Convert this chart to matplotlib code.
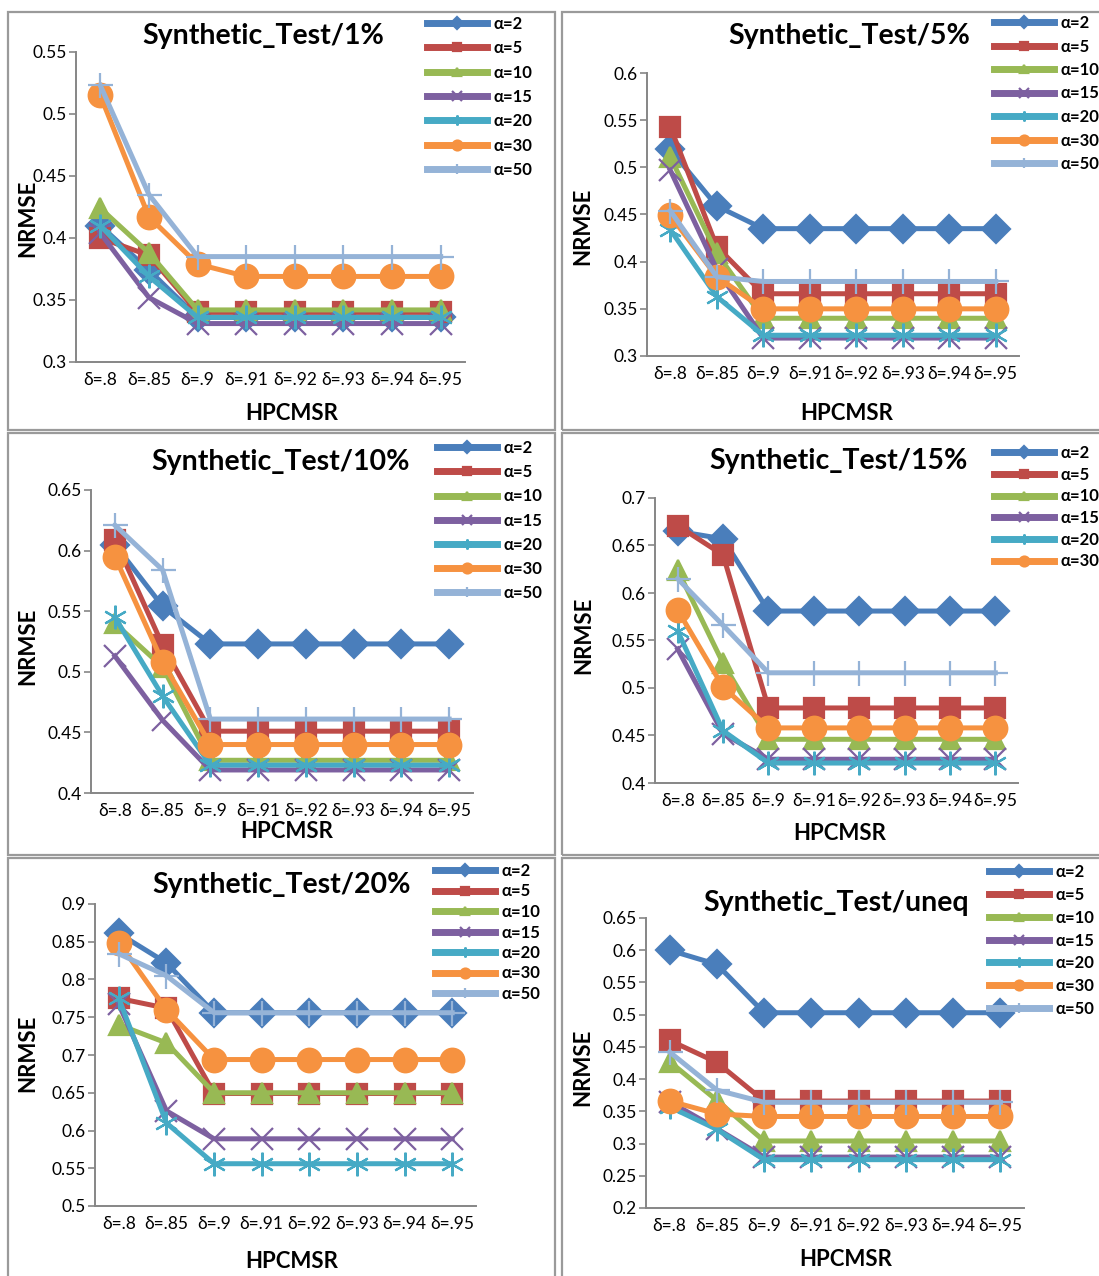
import matplotlib
matplotlib.use("Agg")
import matplotlib.pyplot as plt
from matplotlib.patches import Rectangle
from matplotlib.ticker import MultipleLocator

plt.rcParams['font.family'] = ['Lato', 'DejaVu Sans']

W, H = 1099, 1276

categories = ["δ=.8", "δ=.85", "δ=.9", "δ=.91", "δ=.92", "δ=.93", "δ=.94", "δ=.95"]
series_labels = ["α=2", "α=5", "α=10", "α=15", "α=20", "α=30", "α=50"]

nrmse_1pct = [
    [0.410, 0.374, 0.336, 0.336, 0.336, 0.336, 0.336, 0.336],
    [0.400, 0.386, 0.340, 0.340, 0.340, 0.340, 0.340, 0.340],
    [0.424, 0.388, 0.342, 0.342, 0.342, 0.342, 0.342, 0.342],
    [0.404, 0.352, 0.331, 0.331, 0.331, 0.331, 0.331, 0.331],
    [0.410, 0.369, 0.336, 0.336, 0.336, 0.336, 0.336, 0.336],
    [0.515, 0.417, 0.379, 0.369, 0.369, 0.369, 0.369, 0.369],
    [0.523, 0.435, 0.385, 0.385, 0.385, 0.385, 0.385, 0.385],
]
nrmse_5pct = [
    [0.519, 0.459, 0.435, 0.435, 0.435, 0.435, 0.435, 0.435],
    [0.543, 0.416, 0.366, 0.366, 0.366, 0.366, 0.366, 0.366],
    [0.511, 0.409, 0.340, 0.340, 0.340, 0.340, 0.340, 0.340],
    [0.497, 0.392, 0.319, 0.319, 0.319, 0.319, 0.319, 0.319],
    [0.434, 0.363, 0.322, 0.322, 0.322, 0.322, 0.322, 0.322],
    [0.449, 0.384, 0.350, 0.350, 0.350, 0.350, 0.350, 0.350],
    [0.454, 0.384, 0.379, 0.379, 0.379, 0.379, 0.379, 0.379],
]
nrmse_10pct = [
    [0.605, 0.554, 0.523, 0.523, 0.523, 0.523, 0.523, 0.523],
    [0.609, 0.522, 0.451, 0.451, 0.451, 0.451, 0.451, 0.451],
    [0.540, 0.504, 0.427, 0.427, 0.427, 0.427, 0.427, 0.427],
    [0.513, 0.460, 0.419, 0.419, 0.419, 0.419, 0.419, 0.419],
    [0.545, 0.480, 0.423, 0.423, 0.423, 0.423, 0.423, 0.423],
    [0.595, 0.508, 0.440, 0.440, 0.440, 0.440, 0.440, 0.440],
    [0.621, 0.584, 0.461, 0.461, 0.461, 0.461, 0.461, 0.461],
]
nrmse_15pct = [
    [0.665, 0.657, 0.581, 0.581, 0.581, 0.581, 0.581, 0.581],
    [0.671, 0.640, 0.479, 0.479, 0.479, 0.479, 0.479, 0.479],
    [0.624, 0.526, 0.446, 0.446, 0.446, 0.446, 0.446, 0.446],
    [0.541, 0.452, 0.425, 0.425, 0.425, 0.425, 0.425, 0.425],
    [0.560, 0.455, 0.421, 0.421, 0.421, 0.421, 0.421, 0.421],
    [0.582, 0.501, 0.458, 0.458, 0.458, 0.458, 0.458, 0.458],
    [0.615, 0.566, 0.516, 0.516, 0.516, 0.516, 0.516, 0.516],
]
nrmse_20pct = [
    [0.861, 0.822, 0.756, 0.756, 0.756, 0.756, 0.756, 0.756],
    [0.775, 0.762, 0.649, 0.649, 0.649, 0.649, 0.649, 0.649],
    [0.740, 0.716, 0.650, 0.650, 0.650, 0.650, 0.650, 0.650],
    [0.767, 0.626, 0.589, 0.589, 0.589, 0.589, 0.589, 0.589],
    [0.775, 0.610, 0.556, 0.556, 0.556, 0.556, 0.556, 0.556],
    [0.849, 0.760, 0.694, 0.694, 0.694, 0.694, 0.694, 0.694],
    [0.834, 0.805, 0.756, 0.756, 0.756, 0.756, 0.756, 0.756],
]
nrmse_uneq = [
    [0.600, 0.578, 0.503, 0.503, 0.503, 0.503, 0.503, 0.503],
    [0.460, 0.426, 0.366, 0.366, 0.366, 0.366, 0.366, 0.366],
    [0.427, 0.367, 0.304, 0.304, 0.304, 0.304, 0.304, 0.304],
    [0.365, 0.323, 0.279, 0.279, 0.279, 0.279, 0.279, 0.279],
    [0.357, 0.322, 0.275, 0.275, 0.275, 0.275, 0.275, 0.275],
    [0.366, 0.346, 0.342, 0.342, 0.342, 0.342, 0.342, 0.342],
    [0.442, 0.383, 0.364, 0.364, 0.364, 0.364, 0.364, 0.364],
]

titles = ["Synthetic_Test/1%", "Synthetic_Test/5%", "Synthetic_Test/10%",
          "Synthetic_Test/15%", "Synthetic_Test/20%", "Synthetic_Test/uneq"]
ylims = [(0.3, 0.55), (0.3, 0.6), (0.4, 0.65), (0.4, 0.7), (0.5, 0.9), (0.2, 0.65)]
panel_data = [nrmse_1pct, nrmse_5pct, nrmse_10pct, nrmse_15pct, nrmse_20pct, nrmse_uneq]
legend_counts = [7, 7, 7, 6, 7, 7]

colors = ["#4A7EBB", "#BE4B48", "#98B954", "#7D60A0", "#46AAC5", "#F69240", "#95B3D7"]
markers = ["D", "s", "^", "x", (6, 2, 0), "o", "+"]
msizes = [14, 14, 15, 16, 17, 17, 18]

# layout in pixels
layout = [
    dict(ax=(76, 465, 52, 362), title=(263, 36), yl=(28, 218), xl=(292, 413), lg=(427, 24), ls=0.50, box=(8, 12, 555, 430)),
    dict(ax=(647, 1019, 73, 356), title=(849, 36), yl=(583, 226), xl=(847, 413), lg=(994, 23), ls=0.45, box=(562, 12, 1105, 430)),
    dict(ax=(91, 473, 490, 793), title=(281, 462), yl=(28, 646), xl=(287, 832), lg=(437, 448), ls=0.49, box=(8, 433, 555, 855)),
    dict(ax=(655, 1018, 498, 783), title=(839, 461), yl=(584, 635), xl=(840, 834), lg=(994, 453), ls=0.34, box=(562, 433, 1105, 855)),
    dict(ax=(95, 476, 904, 1206), title=(282, 885), yl=(28, 1053), xl=(292, 1261), lg=(435, 871), ls=0.27, box=(8, 858, 555, 1280)),
    dict(ax=(646, 1024, 918, 1208), title=(836, 903), yl=(583, 1067), xl=(846, 1260), lg=(989, 872), ls=0.41, box=(562, 858, 1105, 1280)),
]

fig = plt.figure(figsize=(W / 100, H / 100), dpi=100)

def fx(px):
    return px / W

def fy(py):
    return 1 - py / H

grey = "#868686"

for i in range(6):
    L = layout[i]
    bx0, by0, bx1, by1 = L["box"]
    fig.patches.append(Rectangle((fx(bx0), fy(by1)), fx(bx1 - bx0), (by1 - by0) / H,
                                 transform=fig.transFigure, fill=False,
                                 edgecolor="#9A9A9A", linewidth=1.6, zorder=0))
    l, r, t, b = L["ax"]
    ax = fig.add_axes([fx(l), fy(b), (r - l) / W, (b - t) / H])
    x = list(range(len(categories)))
    handles = []
    for k in range(7):
        h, = ax.plot(x, panel_data[i][k], color=colors[k], linewidth=3.6,
                     marker=markers[k], markersize=msizes[k],
                     markerfacecolor=colors[k], markeredgecolor=colors[k],
                     markeredgewidth=1.6, label=series_labels[k], clip_on=False)
        handles.append(h)
    ax.set_xlim(-0.5, len(categories) - 0.5)
    ax.set_ylim(*ylims[i])
    ax.yaxis.set_major_locator(MultipleLocator(0.05))
    ax.yaxis.set_major_formatter(plt.FuncFormatter(lambda v, p: ("%g" % round(v, 2))))
    ax.set_xticks(x)
    ax.set_xticklabels(categories)
    for s in ["top", "right"]:
        ax.spines[s].set_visible(False)
    for s in ["left", "bottom"]:
        ax.spines[s].set_color(grey)
        ax.spines[s].set_linewidth(1.4)
    ax.tick_params(axis="y", length=5, width=1.2, color=grey, pad=1.5, labelsize=12.5, labelcolor="black")
    ax.tick_params(axis="x", length=0, pad=7, labelsize=12.5, labelcolor="black")
    ax.patch.set_alpha(0)

    ax.text(fx(L["title"][0]), fy(L["title"][1]), titles[i], transform=fig.transFigure,
            ha="center", va="center", fontsize=20.5, fontweight="bold")
    ax.set_xlabel("HPCMSR", fontsize=16, fontweight="bold")
    ax.xaxis.set_label_coords(fx(L["xl"][0]), fy(L["xl"][1]), transform=fig.transFigure)
    ax.xaxis.label.set_va("center")
    ax.set_ylabel("NRMSE", fontsize=16, fontweight="bold")
    ax.yaxis.set_label_coords(fx(L["yl"][0]), fy(L["yl"][1]), transform=fig.transFigure)
    ax.yaxis.label.set_va("center")
    ax.yaxis.label.set_ha("center")

    n = legend_counts[i]
    leg = fig.legend(handles[:n], series_labels[:n], loc="upper left",
                     bbox_to_anchor=(fx(L["lg"][0]), fy(L["lg"][1] - 8)),
                     bbox_transform=fig.transFigure, frameon=False,
                     borderpad=0, borderaxespad=0, handlelength=3.6,
                     handletextpad=0.4, labelspacing=L["ls"], markerscale=0.42,
                     prop=dict(weight="bold", size=12))
    for ln in leg.get_lines():
        ln.set_linewidth(5)

fig.savefig("out.png", dpi=100)
